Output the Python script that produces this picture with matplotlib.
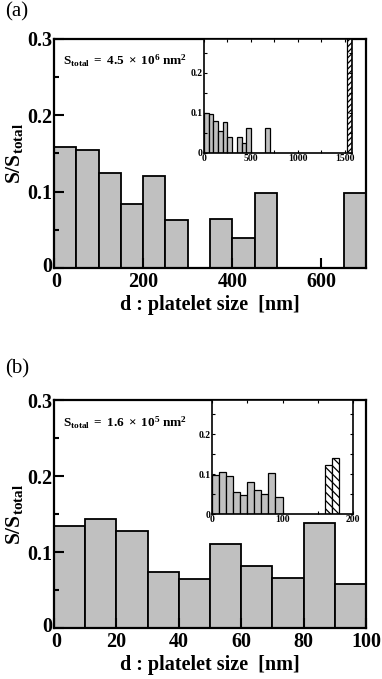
import numpy as np
import matplotlib
matplotlib.use("Agg")
import matplotlib.pyplot as plt
import matplotlib.transforms as mtransforms
from matplotlib.ticker import MultipleLocator

plt.rcParams["font.family"] = ["Liberation Serif", "DejaVu Serif"]
plt.rcParams["mathtext.fontset"] = "custom"
plt.rcParams["mathtext.rm"] = "Liberation Serif"
plt.rcParams["mathtext.bf"] = "Liberation Serif:bold"
plt.rcParams["mathtext.it"] = "Liberation Serif:italic"
plt.rcParams["hatch.linewidth"] = 0.9

# !Data
# panel (a): 50 nm bins, main plot 0-700 nm
edges_a = [0, 50, 100, 150, 200, 250, 300, 350, 400, 450, 500, 550, 600, 650]
main_a = [0.158, 0.155, 0.124, 0.084, 0.121, 0.063, 0.0, 0.064, 0.039, 0.098,
          0.0, 0.0, 0.0, 0.098]
inset_a = [0.100, 0.098, 0.079, 0.054, 0.077, 0.041, 0.0, 0.041, 0.025, 0.063,
           0.0, 0.0, 0.0, 0.063]
hatch_edges_a = [1525]
hatch_a = [0.37]

# panel (b): 10 nm bins, main plot 0-100 nm
edges_b = [0, 10, 20, 30, 40, 50, 60, 70, 80, 90]
main_b = [0.134, 0.143, 0.127, 0.074, 0.064, 0.110, 0.082, 0.066, 0.138, 0.058]
inset_b = [0.098, 0.105, 0.094, 0.055, 0.047, 0.081, 0.060, 0.049, 0.102, 0.042]
hatch_edges_b = [160, 170]
hatch_b = [0.122, 0.140]

main_yticks = [0, 0.1, 0.2, 0.3]
main_yticklabels = ["0", "0.1", "0.2", "0.3"]
inset_yticks = [0, 0.1, 0.2]
inset_yticklabels = ["0", "0.1", "0.2"]

xticks_a = [0, 200, 400, 600]
inset_xticks_a = [0, 500, 1000, 1500]
xticks_b = [0, 20, 40, 60, 80, 100]
inset_xticks_b = [0, 100, 200]

stotal_a = r"$\mathbf{S_{total}\ =\ 4.5\ \times\ 10^{6}\ nm^{2}}$"
stotal_b = r"$\mathbf{S_{total}\ =\ 1.6\ \times\ 10^{5}\ nm^{2}}$"

GRAY = "#c0c0c0"
W, H = 382, 679


def px_axes(fig, left, right, top, bottom):
    return fig.add_axes([left / W, 1 - bottom / H, (right - left) / W, (bottom - top) / H])


def style_main(fig, ax, xmax, xticks):
    ax.set_xlim(0, xmax)
    ax.set_ylim(0, 0.3)
    ax.set_xticks(xticks)
    ax.set_xticklabels([str(t) for t in xticks])
    ax.set_yticks(main_yticks)
    ax.set_yticklabels(main_yticklabels)
    ax.yaxis.set_minor_locator(MultipleLocator(0.05))
    ax.tick_params(which="both", direction="in", width=1.5, top=False, right=False)
    ax.tick_params(which="major", length=7.5)
    ax.tick_params(which="minor", length=3.8)
    ax.tick_params(axis="x", pad=3)
    ax.tick_params(axis="y", pad=1.5)
    for lab in ax.get_xticklabels() + ax.get_yticklabels():
        lab.set_fontsize(14.5)
        lab.set_fontweight("bold")
    # the two "0" labels sit in the corner; nudge them apart a little
    y0 = ax.get_yticklabels()[0]
    y0.set_transform(y0.get_transform() + mtransforms.ScaledTranslation(0, 3 / 100, fig.dpi_scale_trans))
    x0 = ax.get_xticklabels()[0]
    x0.set_transform(x0.get_transform() + mtransforms.ScaledTranslation(2 / 100, 0, fig.dpi_scale_trans))
    for sp in ax.spines.values():
        sp.set_linewidth(1.6)
    ax.set_xlabel("d : platelet size  [nm]", fontsize=14.5, fontweight="bold", labelpad=2)
    ax.set_ylabel(r"$\mathbf{S/S_{total}}$", fontsize=15.5, labelpad=1)


def style_inset(ax, xmax, xticks, xminor):
    ax.set_xlim(0, xmax)
    ax.set_ylim(0, 0.285)
    ax.set_xticks(xticks)
    ax.set_xticklabels([str(t) for t in xticks])
    ax.set_yticks(inset_yticks)
    ax.set_yticklabels(inset_yticklabels)
    ax.xaxis.set_minor_locator(MultipleLocator(xminor))
    ax.yaxis.set_minor_locator(MultipleLocator(0.05))
    ax.tick_params(which="both", direction="in", length=2.5, width=0.8,
                   top=True, right=True, pad=1)
    for lab in ax.get_xticklabels() + ax.get_yticklabels():
        lab.set_fontsize(7)
        lab.set_fontweight("bold")
    for sp in ax.spines.values():
        sp.set_linewidth(1.2)


fig = plt.figure(figsize=(W / 100, H / 100), dpi=100)

# !Panel (a)
ax_a = px_axes(fig, 54, 366, 39, 268)
ax_a.bar(edges_a, main_a, width=50, align="edge", color=GRAY, edgecolor="black", linewidth=1.3)
style_main(fig, ax_a, 700, xticks_a)
ax_a.text(0.029, 0.905, stotal_a, transform=ax_a.transAxes, fontsize=9.5, va="center", ha="left")
fig.text(5 / W, 1 - 12 / H, "(a)", fontsize=15, va="center", ha="left")

ins_a = px_axes(fig, 204, 352, 39, 153)
ins_a.bar(edges_a, inset_a, width=50, align="edge", color=GRAY, edgecolor="black", linewidth=0.9)
ins_a.bar(hatch_edges_a, hatch_a, width=50, align="edge", color="white", edgecolor="black",
          linewidth=0.9, hatch="//////")
style_inset(ins_a, 1575, inset_xticks_a, 250)

# !Panel (b)
ax_b = px_axes(fig, 54, 366, 400, 628)
ax_b.bar(edges_b, main_b, width=10, align="edge", color=GRAY, edgecolor="black", linewidth=1.3)
style_main(fig, ax_b, 100, xticks_b)
ax_b.text(0.029, 0.9, stotal_b, transform=ax_b.transAxes, fontsize=9.5, va="center", ha="left")
fig.text(5 / W, 1 - 369 / H, "(b)", fontsize=15, va="center", ha="left")

ins_b = px_axes(fig, 212, 353, 400, 514)
ins_b.bar(edges_b, inset_b, width=10, align="edge", color=GRAY, edgecolor="black", linewidth=0.9)
ins_b.bar(hatch_edges_b, hatch_b, width=10, align="edge", color="white", edgecolor="black",
          linewidth=0.9, hatch="\\\\\\\\")
style_inset(ins_b, 200, inset_xticks_b, 50)

fig.savefig("out.png", dpi=100)
